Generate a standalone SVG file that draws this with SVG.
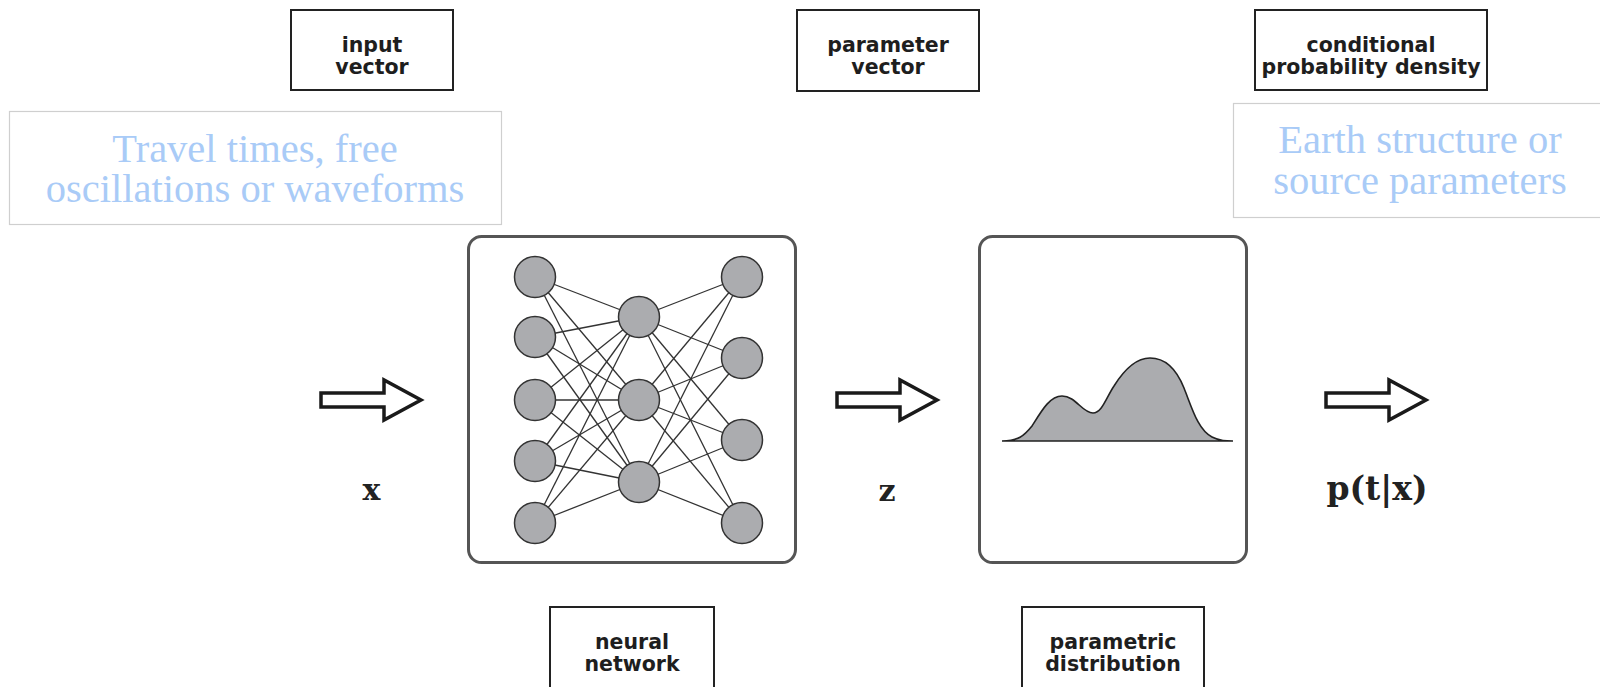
<svg xmlns="http://www.w3.org/2000/svg" xmlns:xlink="http://www.w3.org/1999/xlink" width="1600" height="687" viewBox="0 0 1600 687">
<style>
.lbox{fill:#fff;stroke:#222;stroke-width:2}
.ltxt{font-family:"DejaVu Sans",sans-serif;font-weight:bold;font-size:20.5px;fill:#1e1e1e;text-anchor:middle}
.note{fill:#fff;stroke:#cfcfcf;stroke-width:1.2}
.ntxt{font-family:"Liberation Serif",serif;font-size:40.5px;fill:#a9cbf7;text-anchor:middle}
.panel{fill:#fff;stroke:#555;stroke-width:3}
.edge{stroke:#333;stroke-width:1.3}
.neuron{fill:#abacaf;stroke:#333;stroke-width:1.5}
.sym{font-family:"DejaVu Serif",serif;font-weight:bold;font-size:30px;fill:#222;text-anchor:middle}
.arrow{fill:#fff;stroke:#1a1a1a;stroke-width:3.5;stroke-linejoin:miter}
</style>
<defs>
<path id="fat" d="M321,393 L384,393 L384,380 L421,400 L384,420 L384,407 L321,407 Z"/>
</defs>
<rect width="1600" height="687" fill="#fff"/>

<g id="input-vector">
<rect class="lbox" x="291" y="10" width="162" height="80"/>
<text class="ltxt" x="372" y="52">input</text>
<text class="ltxt" x="372" y="74">vector</text>
</g>
<g id="parameter-vector">
<rect class="lbox" x="797" y="10" width="182" height="81"/>
<text class="ltxt" x="888" y="52">parameter</text>
<text class="ltxt" x="888" y="74">vector</text>
</g>
<g id="conditional-density">
<rect class="lbox" x="1255" y="10" width="232" height="80"/>
<text class="ltxt" x="1371" y="52">conditional</text>
<text class="ltxt" x="1371" y="74">probability density</text>
</g>

<g id="note-input">
<rect class="note" x="9.5" y="111.5" width="492" height="113"/>
<text class="ntxt" x="255" y="162">Travel times, free</text>
<text class="ntxt" x="255" y="202">oscillations or waveforms</text>
</g>
<g id="note-output">
<rect class="note" x="1233.5" y="103.5" width="380" height="114"/>
<text class="ntxt" x="1420" y="153">Earth structure or</text>
<text class="ntxt" x="1420" y="194">source parameters</text>
</g>

<g id="connectors">
<use xlink:href="#fat" href="#fat" class="arrow"/>
<use xlink:href="#fat" href="#fat" class="arrow" x="516"/>
<use xlink:href="#fat" href="#fat" class="arrow" x="1005"/>
</g>

<g id="label-x"><text class="sym" x="371.5" y="500">x</text></g>
<g id="label-z"><text class="sym" x="887" y="501">z</text></g>
<g id="label-p"><text class="sym" x="1377" y="500" style="font-size:33px">p(t|x)</text></g>

<g id="neural-network-panel">
<rect class="panel" x="468.5" y="236.5" width="327" height="326" rx="13"/>
<g class="edge">
<line x1="535" y1="277" x2="639" y2="317"/><line x1="535" y1="277" x2="639" y2="400"/><line x1="535" y1="277" x2="639" y2="482"/>
<line x1="535" y1="337" x2="639" y2="317"/><line x1="535" y1="337" x2="639" y2="400"/><line x1="535" y1="337" x2="639" y2="482"/>
<line x1="535" y1="400" x2="639" y2="317"/><line x1="535" y1="400" x2="639" y2="400"/><line x1="535" y1="400" x2="639" y2="482"/>
<line x1="535" y1="461" x2="639" y2="317"/><line x1="535" y1="461" x2="639" y2="400"/><line x1="535" y1="461" x2="639" y2="482"/>
<line x1="535" y1="523" x2="639" y2="317"/><line x1="535" y1="523" x2="639" y2="400"/><line x1="535" y1="523" x2="639" y2="482"/>
<line x1="639" y1="317" x2="742" y2="277"/><line x1="639" y1="317" x2="742" y2="358"/><line x1="639" y1="317" x2="742" y2="440"/><line x1="639" y1="317" x2="742" y2="523"/>
<line x1="639" y1="400" x2="742" y2="277"/><line x1="639" y1="400" x2="742" y2="358"/><line x1="639" y1="400" x2="742" y2="440"/><line x1="639" y1="400" x2="742" y2="523"/>
<line x1="639" y1="482" x2="742" y2="277"/><line x1="639" y1="482" x2="742" y2="358"/><line x1="639" y1="482" x2="742" y2="440"/><line x1="639" y1="482" x2="742" y2="523"/>
</g>
<g class="neuron">
<circle cx="535" cy="277" r="20.5"/><circle cx="535" cy="337" r="20.5"/><circle cx="535" cy="400" r="20.5"/><circle cx="535" cy="461" r="20.5"/><circle cx="535" cy="523" r="20.5"/>
<circle cx="639" cy="317" r="20.5"/><circle cx="639" cy="400" r="20.5"/><circle cx="639" cy="482" r="20.5"/>
<circle cx="742" cy="277" r="20.5"/><circle cx="742" cy="358" r="20.5"/><circle cx="742" cy="440" r="20.5"/><circle cx="742" cy="523" r="20.5"/>
</g>
</g>

<g id="distribution-panel">
<rect class="panel" x="979.5" y="236.5" width="267" height="326" rx="13"/>
<path d="M1002,441 C1018,441 1024,436 1032,426 C1042,410 1050,396 1062,396 C1076,396 1082,413 1093,413 C1102,413 1106,398 1114,386 C1124,370 1136,358 1150,358 C1164,358 1176,368 1184,388 C1192,408 1198,430 1212,437 C1220,441 1226,441 1233,441 Z" fill="#abacaf" stroke="#222" stroke-width="1.6"/>
</g>

<g id="neural-network">
<rect class="lbox" x="550" y="607" width="164" height="90"/>
<text class="ltxt" x="632" y="649">neural</text>
<text class="ltxt" x="632" y="671">network</text>
</g>
<g id="parametric-distribution">
<rect class="lbox" x="1022" y="607" width="182" height="90"/>
<text class="ltxt" x="1113" y="649">parametric</text>
<text class="ltxt" x="1113" y="671">distribution</text>
</g>
</svg>
